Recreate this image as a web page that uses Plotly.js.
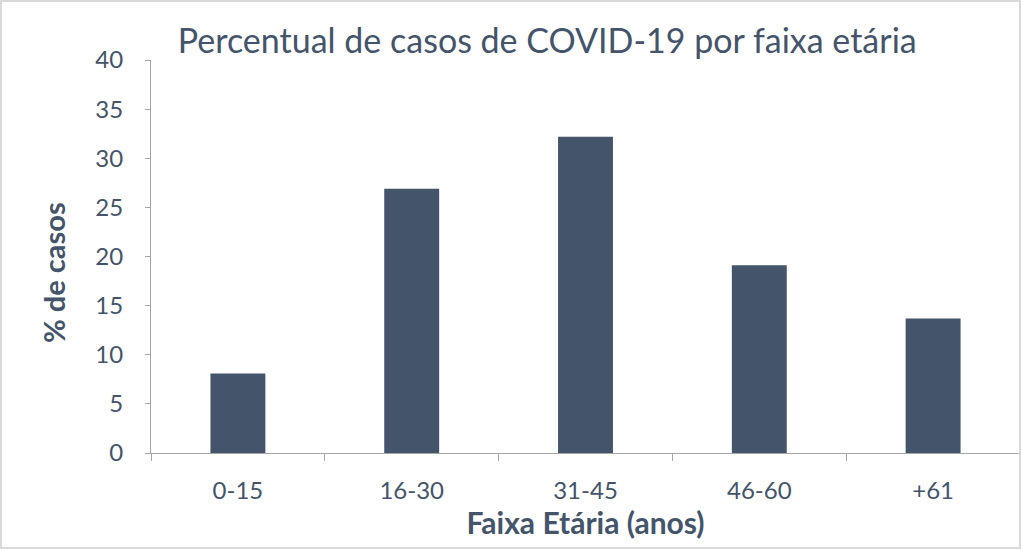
<!DOCTYPE html>
<html>
<head>
<meta charset="utf-8">
<script src="https://cdn.plot.ly/plotly-3.0.1.min.js"></script>
<style>
  body { margin: 0; background: #fff; }
  #wrap { position: relative; width: 1021px; height: 549px; }
  #frame { position: absolute; left: 0; top: 0; width: 1021px; height: 549px;
           box-sizing: border-box; border: 2px solid #d9d9d9; pointer-events: none; }
</style>
</head>
<body>
<div id="wrap">
  <div id="chart"></div>
  <div id="frame"></div>
</div>
<script>
// faixas etárias e percentual de casos
const faixas = ['0-15', '16-30', '31-45', '46-60', '+61'];
const percentual = [8.1, 26.9, 32.2, 19.1, 13.7];
const yTicks = [0, 5, 10, 15, 20, 25, 30, 35, 40];

const textColor = '#44546a';
const fontFamily = 'Lato, "Open Sans", sans-serif';

let data = [{
  type: 'bar',
  x: faixas,
  y: percentual,
  marker: { color: '#44546a' },
  hoverinfo: 'x+y'
}];

let layout = {
  width: 1021,
  height: 549,
  margin: { l: 151, r: 1, t: 60, b: 96 },
  paper_bgcolor: '#fff',
  plot_bgcolor: '#fff',
  showlegend: false,
  bargap: 0.684,
  font: { family: fontFamily, color: textColor, size: 24 },
  title: {
    text: 'Percentual de casos de COVID-19 por faixa etária',
    font: { size: 34, color: textColor, family: fontFamily },
    x: 0.536, xanchor: 'center',
    y: 0.925, yanchor: 'middle'
  },
  xaxis: {
    type: 'category',
    showline: true,
    linecolor: '#a6a6a6',
    linewidth: 1,
    ticks: 'outside',
    tickson: 'boundaries',
    ticklen: 7,
    tickcolor: '#a6a6a6',
    tickfont: { size: 24, color: textColor },
    ticklabelstandoff: 16,
    showgrid: false,
    title: {
      text: '<b>Faixa Etária (anos)</b>',
      font: { size: 30, color: textColor },
      standoff: 2
    }
  },
  yaxis: {
    range: [0, 40],
    tickvals: yTicks,
    showline: true,
    linecolor: '#a6a6a6',
    linewidth: 1,
    ticks: 'outside',
    ticklen: 5,
    tickcolor: '#a6a6a6',
    tickfont: { size: 24, color: textColor },
    ticklabelstandoff: 17,
    showgrid: false,
    zeroline: false
  },
  annotations: [{
    text: '<b>% de casos</b>',
    font: { size: 29, color: textColor },
    textangle: -90,
    xref: 'paper', yref: 'paper',
    x: -0.113, y: 0.46,
    xanchor: 'center', yanchor: 'middle',
    showarrow: false
  }]
};

Plotly.newPlot('chart', data, layout, { displayModeBar: false, responsive: false });
</script>
</body>
</html>
